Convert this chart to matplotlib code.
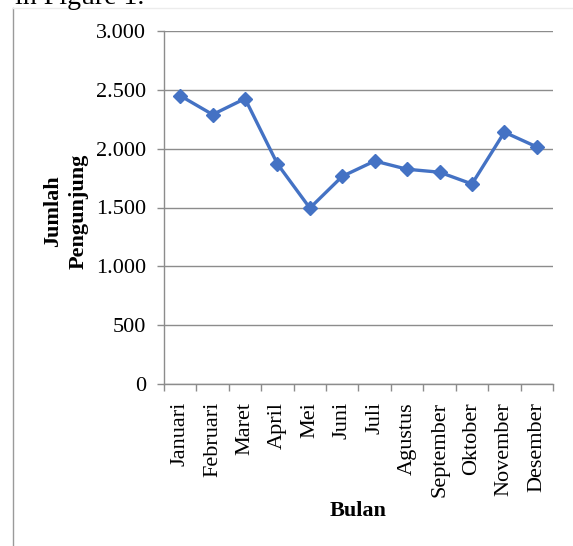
import matplotlib
matplotlib.use('Agg')
import matplotlib.pyplot as plt
from matplotlib.lines import Line2D
from matplotlib.ticker import FuncFormatter, FixedLocator

BULAN = ['Januari', 'Februari', 'Maret', 'April', 'Mei', 'Juni', 'Juli',
         'Agustus', 'September', 'Oktober', 'November', 'Desember']
PENGUNJUNG = [2450, 2290, 2425, 1870, 1495, 1765, 1895, 1825, 1800, 1700, 2140, 2015]
Y_TICKS = [0, 500, 1000, 1500, 2000, 2500, 3000]

W, H = 573, 546
FS = 16
plt.rcParams['font.family'] = ['Liberation Serif', 'DejaVu Serif']

fig = plt.figure(figsize=(W / 100, H / 100), dpi=100)
fig.patch.set_facecolor('white')

# bingkai dokumen di sekitar grafik
fig.add_artist(Line2D([13 / W, 13 / W], [0, 1 - 8 / H], transform=fig.transFigure,
                      color='#9a9a9a', lw=1.0))
fig.add_artist(Line2D([13 / W, 1], [1 - 8 / H, 1 - 8 / H], transform=fig.transFigure,
                      color='#ececec', lw=1.0))
fig.text(15 / W, 1 - 4 / H, 'in Figure 1.', fontsize=20, va='baseline', ha='left')

ax = fig.add_axes([164 / W, 1 - 384 / H, (553 - 164) / W, (384 - 31) / H])
x = list(range(len(BULAN)))
ax.plot(x, PENGUNJUNG, color='#4472C4', lw=2.4, marker='D', markersize=7.5,
        markeredgecolor='#4472C4', zorder=3)

ax.set_xlim(-0.5, len(BULAN) - 0.5)
ax.set_ylim(0, 3000)
ax.yaxis.set_major_locator(FixedLocator(Y_TICKS))
ax.yaxis.set_major_formatter(FuncFormatter(lambda v, p: f'{int(v):,}'.replace(',', '.')))
ax.grid(axis='y', color='#8c8c8c', lw=1.0)
ax.set_axisbelow(True)

ax.set_xticks(x)
ax.set_xticklabels(BULAN, rotation=90, fontsize=FS, va='top', ha='center')
ax.set_xticks([i - 0.5 for i in range(len(BULAN) + 1)], minor=True)
ax.tick_params(axis='x', which='major', length=0, pad=13)
ax.tick_params(axis='x', which='minor', length=5, color='#8c8c8c', width=1.0)
ax.tick_params(axis='y', length=5, color='#8c8c8c', width=1.0, pad=8, labelsize=FS)

for s in ['top', 'right']:
    ax.spines[s].set_visible(False)
for s in ['left', 'bottom']:
    ax.spines[s].set_color('#8c8c8c')
    ax.spines[s].set_linewidth(1.0)

fig.text(66 / W, 1 - 211 / H, 'Jumlah\nPengunjung', rotation=90, fontsize=FS,
         fontweight='bold', ha='center', va='center', multialignment='center',
         linespacing=1.4)
fig.text(358 / W, 1 - 511 / H, 'Bulan', fontsize=FS, fontweight='bold',
         ha='center', va='center')

fig.savefig('out.png', dpi=100)
